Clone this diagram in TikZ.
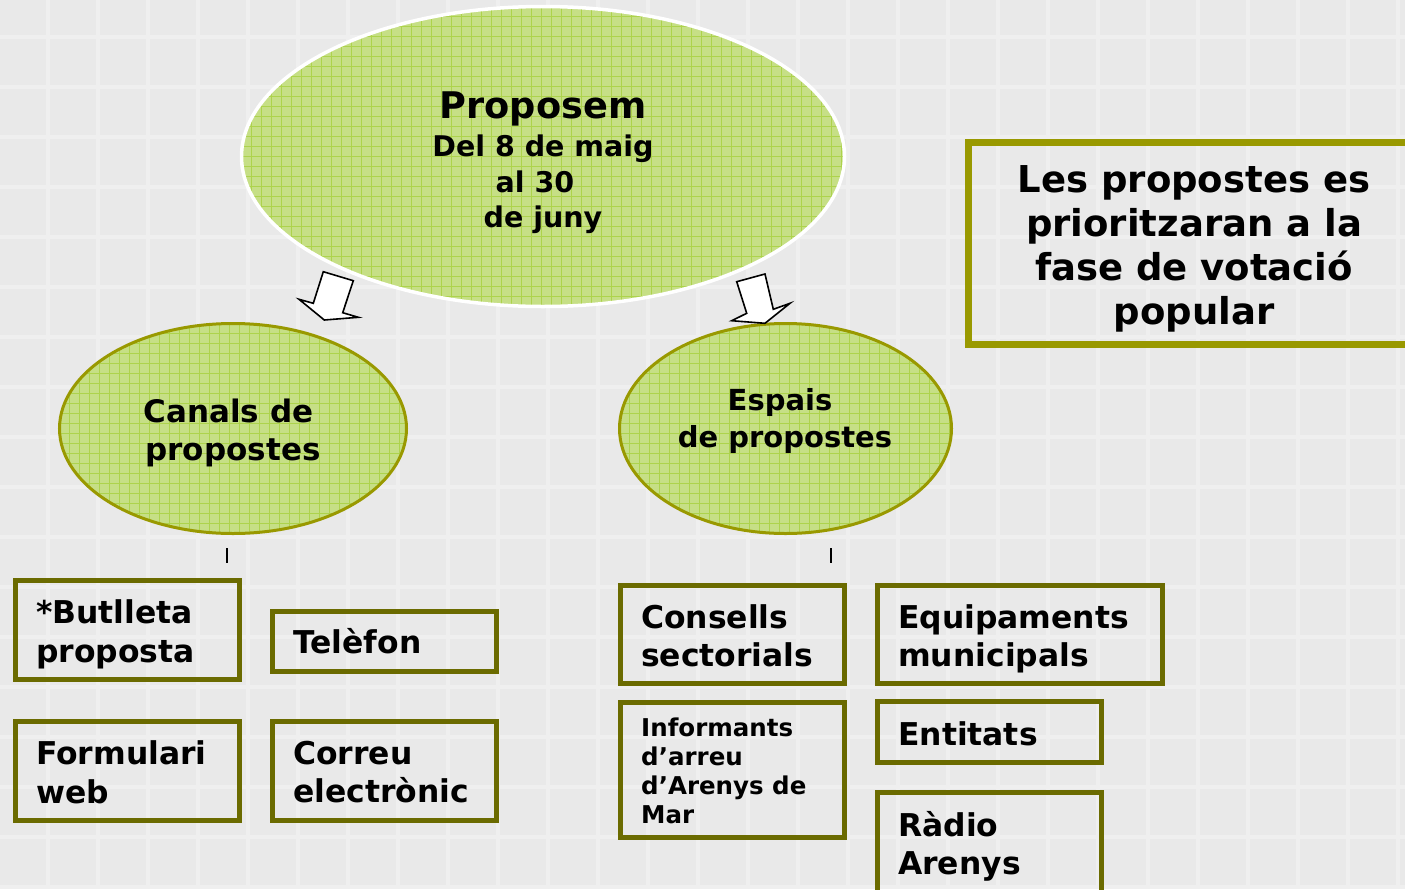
\documentclass[tikz,border=0pt]{standalone}
\usepackage{fontspec}
\setmainfont{DejaVu Sans}
\usetikzlibrary{shapes.geometric}
\definecolor{bg}{HTML}{E9E9E9}
\definecolor{bgline}{HTML}{EFEFEF}
\definecolor{olivec}{HTML}{999900}
\definecolor{darkolive}{HTML}{6B6B00}
\definecolor{ellfill}{HTML}{C6DF86}
\definecolor{ellline}{HTML}{ADD34C}
\begin{document}
\begin{tikzpicture}[x=1pt,y=-1pt,
  gridfill/.style={path picture={
    \foreach \k in {0,...,64}{\draw[ellline,line width=1pt] ([xshift=\k*10pt]path picture bounding box.south west) -- ([xshift=\k*10pt]path picture bounding box.north west);}
    \foreach \k in {0,...,34}{\draw[ellline,line width=1pt] ([yshift=\k*10pt]path picture bounding box.south west) -- ([yshift=\k*10pt]path picture bounding box.south east);}
  }},
  bubble/.style={ellipse, fill=ellfill, gridfill, inner sep=0pt},
  bubtext/.style={align=center, inner sep=0pt},
  pframe/.style={draw=darkolive, line width=5pt, rectangle, inner sep=0pt},
  ptext/.style={anchor=west, inner sep=0pt, align=left, font=\bfseries\fontsize{31.4}{38.5}\selectfont},
  barrow/.style={draw=black, fill=white, line width=1.6pt, line join=miter},
  tick/.style={draw=black, line width=1.6pt}
]
\useasboundingbox (0,0) rectangle (1405,889);
\clip (0,0) rectangle (1405,889);
\fill[bg] (0,0) rectangle (1405,889);
\foreach \x in {-2,48,...,1450}{\draw[bgline,line width=4pt] (\x,0) -- (\x,889);}
\foreach \y in {37,87,...,900}{\draw[bgline,line width=4pt] (0,\y) -- (1405,\y);}

% ellipses
\node[bubble, draw=white, line width=3.5pt, minimum width=603pt, minimum height=300pt] (top) at (543,156.5) {};
\node[bubtext, font=\bfseries\fontsize{28.5}{35.5}\selectfont] (toptext) at (543,162.5) {\fontsize{36.7}{36}\selectfont Proposem\\[3pt]Del 8 de maig\\al 30\hspace*{16pt}\hbox{}\\de juny};
\node[bubble, draw=olivec, line width=3pt, minimum width=347pt, minimum height=210pt] (canals) at (233,428.5) {};
\node[bubtext, font=\bfseries\fontsize{31}{38}\selectfont] (canalstext) at (233,433) {Canals de\hspace*{9pt}\\propostes};
\node[bubble, draw=olivec, line width=3pt, minimum width=332pt, minimum height=210pt] (espais) at (785.5,428.5) {};
\node[bubtext, font=\bfseries\fontsize{29}{37}\selectfont] (espaistext) at (785,420.5) {Espais\hspace*{10pt}\\de propostes};

% block arrows
\draw[barrow] (323.3,271.7) -- (353.3,280.7) -- (342.7,312.7) -- (358.3,317.3) -- (324.3,320) -- (299,299.3) -- (313.3,303.3) -- cycle;
\draw[barrow] (736.7,281.7) -- (765,274) -- (773.3,309.3) -- (790,303.3) -- (765,323.3) -- (731.7,320.7) -- (746.7,313.3) -- cycle;

% ticks
\coordinate (t1a) at (227,548); \coordinate (t1b) at (227,563);
\coordinate (t2a) at (831,548); \coordinate (t2b) at (831,563);
\draw[tick] (t1a) -- (t1b);
\draw[tick] (t2a) -- (t2b);

% boxes left
\node[pframe, minimum width=224pt, minimum height=99pt] (butlleta) at (127.5,630) {};
\node[ptext] (butlletaT) at ([xshift=23pt,yshift=-4.5pt]butlleta.west) {*Butlleta\\proposta};
\node[pframe, minimum width=224pt, minimum height=60pt] (telefon) at (384.5,641.5) {};
\node[ptext] (telefonT) at ([xshift=23pt,yshift=0pt]telefon.west) {Telèfon};
\node[pframe, minimum width=224pt, minimum height=99pt] (formulari) at (127.5,771) {};
\node[ptext] (formulariT) at ([xshift=23pt,yshift=-1.5pt]formulari.west) {Formulari\\web};
\node[pframe, minimum width=224pt, minimum height=99pt] (correu) at (384.5,771) {};
\node[ptext] (correuT) at ([xshift=23pt,yshift=-1pt]correu.west) {Correu\\electrònic};

% boxes right
\node[pframe, minimum width=224pt, minimum height=98pt] (consells) at (732.5,634.5) {};
\node[ptext] (consellsT) at ([xshift=23pt,yshift=-1.5pt]consells.west) {Consells\\sectorials};
\node[pframe, minimum width=285pt, minimum height=98pt] (equip) at (1020,634.5) {};
\node[ptext] (equipT) at ([xshift=23pt,yshift=-4.5pt]equip.west) {Equipaments\\municipals};
\node[pframe, minimum width=224pt, minimum height=135pt] (informants) at (732.5,770) {};
\node[ptext, font=\bfseries\fontsize{24.5}{29}\selectfont] (informantsT) at ([xshift=23pt,yshift=-1pt]informants.west) {Informants\\d’arreu\\d’Arenys de\\Mar};
\node[pframe, minimum width=224pt, minimum height=61pt] (entitats) at (989.5,732) {};
\node[ptext] (entitatsT) at ([xshift=23pt,yshift=-2pt]entitats.west) {Entitats};
\node[pframe, minimum width=224pt, minimum height=103pt] (radio) at (989.5,844) {};
\node[ptext] (radioT) at ([xshift=23pt,yshift=-2.5pt]radio.west) {Ràdio\\Arenys};

% note box
\node[draw=olivec, line width=7pt, rectangle, inner sep=0pt, minimum width=451pt, minimum height=202pt] (note) at (1194,243.5) {};
\node[align=center, inner sep=0pt, font=\bfseries\fontsize{37}{44}\selectfont] (noteT) at ([yshift=-5pt]note.center) {Les propostes es\\prioritzaran a la\\fase de votació\\popular};
\end{tikzpicture}
\end{document}
